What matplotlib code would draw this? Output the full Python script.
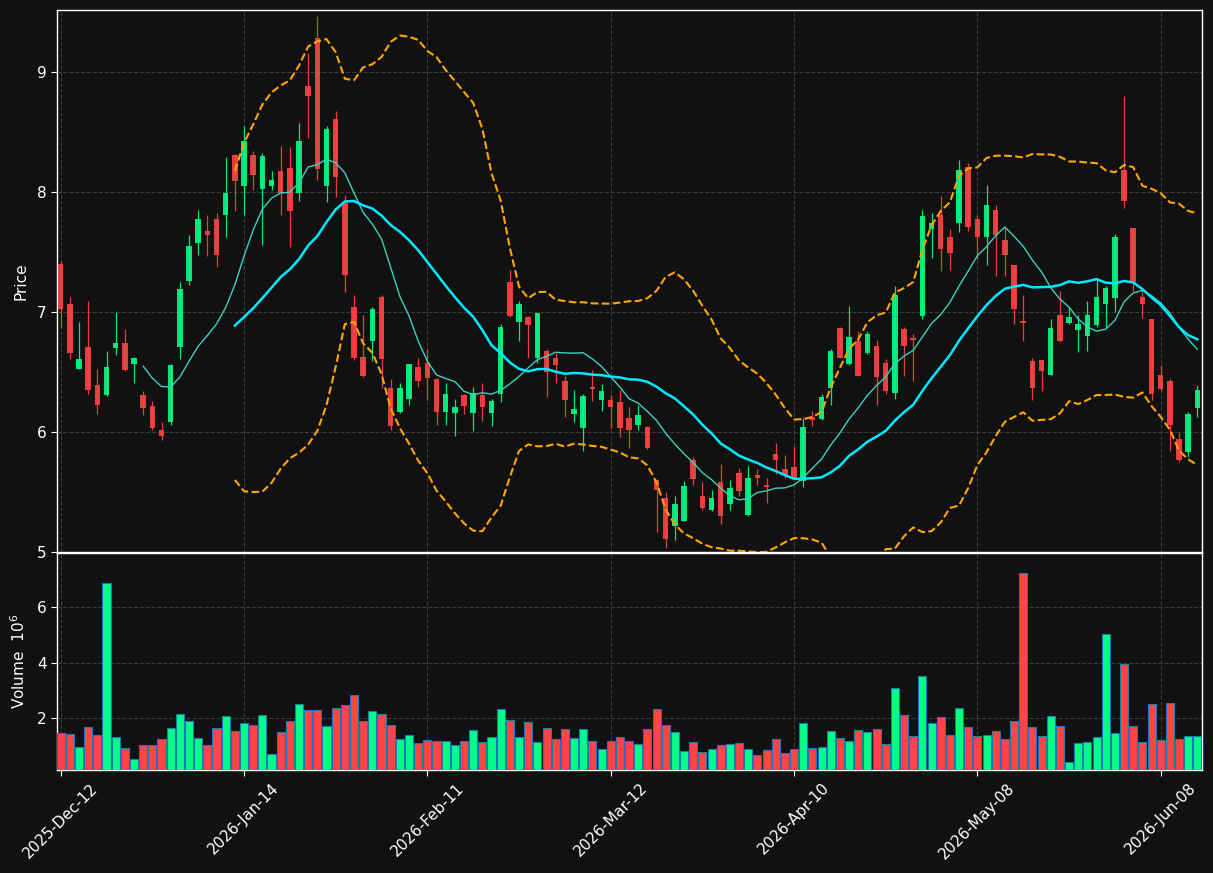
import numpy as np
import pandas as pd
import matplotlib
matplotlib.use('Agg')
import matplotlib.pyplot as plt

# ---------------- data ----------------
opens = [7.40, 7.07, 6.53, 6.71, 6.39, 6.31, 6.70, 6.74, 6.57, 6.31,
         6.22, 6.02, 6.08, 6.71, 7.26, 7.58, 7.68, 7.78, 7.81, 8.31,
         8.05, 8.31, 8.03, 8.05, 8.18, 8.20, 7.99, 8.89, 9.29, 8.05,
         8.61, 7.91, 7.04, 6.63, 6.76, 7.13, 6.37, 6.17, 6.28, 6.54,
         6.58, 6.44, 6.17, 6.16, 6.31, 6.16, 6.31, 6.16, 6.32, 7.25,
         6.92, 6.96, 6.62, 6.68, 6.62, 6.43, 6.15, 6.03, 6.38, 6.27,
         6.27, 6.25, 6.12, 6.06, 6.04, 5.60, 5.45, 5.22, 5.26, 5.77,
         5.47, 5.35, 5.58, 5.40, 5.66, 5.305, 5.645, 5.56, 5.82, 5.695,
         5.71, 5.59, 6.13, 6.11, 6.37, 6.87, 6.565, 6.76, 6.66, 6.72,
         6.58, 6.33, 6.86, 6.785, 6.965, 7.69, 7.81, 7.63, 7.74, 8.21,
         7.775, 7.63, 7.85, 7.60, 7.39, 6.93, 6.59, 6.60, 6.48, 6.98,
         6.91, 6.85, 6.80, 6.89, 7.07, 7.12, 8.185, 7.70, 7.13, 6.94,
         6.48, 6.43, 5.94, 5.83, 6.20]
highs = [7.43, 7.13, 6.92, 7.09, 6.53, 6.68, 7.00, 6.86, 6.63, 6.34,
         6.26, 6.08, 6.57, 7.25, 7.64, 7.85, 7.81, 7.83, 8.29, 8.32,
         8.55, 8.34, 8.33, 8.18, 8.39, 8.38, 8.58, 9.16, 9.47, 8.55,
         8.68, 7.98, 7.14, 6.98, 7.04, 7.14, 6.44, 6.41, 6.57, 6.62,
         6.69, 6.45, 6.41, 6.28, 6.32, 6.38, 6.41, 6.28, 6.90, 7.35,
         7.09, 6.97, 6.99, 6.69, 6.66, 6.47, 6.35, 6.32, 6.52, 6.40,
         6.31, 6.35, 6.21, 6.23, 6.05, 5.61, 5.50, 5.47, 5.59, 5.79,
         5.58, 5.52, 5.73, 5.60, 5.70, 5.72, 5.695, 5.62, 5.91, 5.81,
         5.88, 6.12, 6.18, 6.32, 6.69, 6.875, 7.05, 6.84, 6.84, 6.77,
         6.61, 7.22, 6.88, 6.82, 7.85, 7.83, 7.97, 7.69, 8.27, 8.24,
         7.81, 8.06, 7.89, 7.71, 7.39, 7.145, 6.62, 6.605, 6.94, 7.175,
         7.04, 6.98, 7.09, 7.27, 7.22, 7.65, 8.80, 7.70, 7.18, 6.945,
         6.56, 6.44, 6.00, 6.17, 6.39]
lows = [6.87, 6.61, 6.53, 6.32, 6.15, 6.30, 6.64, 6.51, 6.41, 6.14,
        6.02, 5.935, 6.06, 6.61, 7.23, 7.48, 7.47, 7.38, 7.63, 7.84,
        7.81, 8.02, 7.56, 8.02, 7.81, 7.54, 7.93, 8.45, 8.10, 7.92,
        7.96, 7.17, 6.60, 6.46, 6.59, 6.37, 6.02, 6.16, 6.23, 6.38,
        6.27, 6.06, 6.06, 5.97, 6.15, 6.01, 6.09, 6.05, 6.25, 6.96,
        6.76, 6.62, 6.58, 6.29, 6.41, 6.13, 6.08, 5.84, 6.26, 6.18,
        6.03, 5.96, 5.87, 6.02, 5.855, 5.17, 5.03, 5.10, 5.26, 5.56,
        5.35, 5.34, 5.23, 5.35, 5.47, 5.30, 5.56, 5.41, 5.65, 5.62,
        5.62, 5.54, 6.05, 6.10, 6.23, 6.62, 6.56, 6.465, 6.65, 6.23,
        6.32, 6.275, 6.47, 6.43, 6.945, 7.45, 7.34, 7.35, 7.67, 7.68,
        7.44, 7.39, 7.30, 7.30, 6.90, 6.76, 6.27, 6.34, 6.48, 6.755,
        6.90, 6.67, 6.68, 6.88, 6.88, 7.00, 7.87, 7.18, 6.95, 6.27,
        6.34, 5.84, 5.75, 5.79, 6.13]
closes = [7.03, 6.66, 6.61, 6.35, 6.23, 6.54, 6.74, 6.52, 6.62, 6.20,
          6.03, 5.965, 6.56, 7.19, 7.55, 7.78, 7.64, 7.48, 7.99, 8.09,
          8.43, 8.14, 8.30, 8.10, 7.99, 7.84, 8.43, 8.80, 8.19, 8.53,
          8.13, 7.31, 6.62, 6.47, 7.03, 6.61, 6.05, 6.37, 6.57, 6.43,
          6.45, 6.17, 6.32, 6.21, 6.22, 6.33, 6.21, 6.26, 6.88, 6.97,
          7.07, 6.89, 6.99, 6.50, 6.56, 6.27, 6.19, 6.30, 6.36, 6.34,
          6.21, 6.03, 6.02, 6.14, 5.865, 5.52, 5.11, 5.40, 5.55, 5.61,
          5.37, 5.45, 5.30, 5.53, 5.51, 5.62, 5.62, 5.54, 5.77, 5.64,
          5.62, 6.04, 6.10, 6.29, 6.68, 6.62, 6.79, 6.47, 6.82, 6.46,
          6.345, 7.145, 6.72, 6.77, 7.80, 7.74, 7.53, 7.49, 8.185, 7.71,
          7.63, 7.89, 7.64, 7.48, 7.03, 6.91, 6.37, 6.51, 6.87, 6.76,
          6.96, 6.90, 6.98, 7.13, 7.20, 7.63, 7.93, 7.25, 7.07, 6.32,
          6.36, 6.06, 5.77, 6.155, 6.35]
volume_millions = [1.47, 1.44, 0.96, 1.68, 1.40, 6.87, 1.32, 0.92, 0.52, 1.03,
                   1.03, 1.24, 1.64, 2.14, 1.89, 1.28, 1.03, 1.64, 2.07, 1.53,
                   1.82, 1.75, 2.11, 0.70, 1.50, 1.89, 2.51, 2.29, 2.29, 1.71,
                   2.36, 2.47, 2.83, 1.89, 2.25, 2.14, 1.75, 1.24, 1.39, 1.10,
                   1.21, 1.17, 1.17, 1.03, 1.17, 1.57, 1.14, 1.32, 2.32, 1.93,
                   1.32, 1.86, 1.14, 1.64, 1.24, 1.60, 1.28, 1.60, 1.17, 0.88,
                   1.17, 1.32, 1.17, 1.06, 1.60, 2.32, 1.75, 1.50, 0.81, 1.14,
                   0.78, 0.88, 1.03, 1.06, 1.10, 0.88, 0.67, 0.85, 1.24, 0.74,
                   0.88, 1.82, 0.92, 0.96, 1.53, 1.28, 1.17, 1.57, 1.50, 1.60,
                   1.06, 3.08, 2.11, 1.35, 3.51, 1.82, 2.04, 1.39, 2.36, 1.68,
                   1.35, 1.39, 1.53, 1.24, 1.89, 7.23, 1.68, 1.35, 2.07, 1.71,
                   0.41, 1.10, 1.14, 1.32, 5.03, 1.46, 3.95, 1.71, 1.14, 2.51,
                   1.21, 2.54, 1.24, 1.35, 1.35]
tick_labels = ['2025-Dec-12', '2026-Jan-14', '2026-Feb-11', '2026-Mar-12',
               '2026-Apr-10', '2026-May-08', '2026-Jun-08']
tick_step = 20

# ---------------- style ----------------
BG = '#111111'
UP = '#00ff88'
DOWN = '#ff4444'
GRID = '#3a3a3a'
FG = 'white'

W, H = 1213, 873
fig = plt.figure(figsize=(W / 100, H / 100), dpi=100, facecolor=BG)
left, right = 57 / W, 1202 / W
ax = fig.add_axes([left, 1 - 552 / H, right - left, (552 - 10) / H], facecolor=BG)
axv = fig.add_axes([left, 1 - 770 / H, right - left, (770 - 553) / H], facecolor=BG, sharex=ax)

o = np.array(opens); h = np.array(highs); l = np.array(lows); c = np.array(closes)
x = np.arange(len(c))
up = c >= o
cols = np.where(up, UP, DOWN)

# candles
ax.vlines(x, l, h, colors=cols, linewidth=0.9, alpha=0.9, zorder=2)
body_bottom = np.minimum(o, c)
body_h = np.maximum(np.abs(c - o), 0.006)
ax.bar(x, body_h, bottom=body_bottom, width=0.6, color=cols, alpha=0.9,
       linewidth=0, zorder=3)

# moving averages and bollinger bands
s = pd.Series(c)
ma10 = s.rolling(10).mean()
ma20 = s.rolling(20).mean()
sd20 = s.rolling(20).std(ddof=0)
ax.plot(x, ma10, color='#3ccfc2', lw=1.0, zorder=4)
ax.plot(x, ma20, color='#00eaff', lw=1.8, zorder=4)
ax.plot(x, ma20 + 2 * sd20, color='#ffa500', ls='--', lw=1.5, zorder=4)
ax.plot(x, ma20 - 2 * sd20, color='#ffa500', ls='--', lw=1.5, zorder=4)

# volume
axv.bar(x, volume_millions, width=0.88, color=cols, edgecolor='#1f77b4',
        linewidth=0.8, zorder=3)

# axes formatting
ax.set_xlim(-0.4, len(c) - 0.5)
ax.set_ylim(5.0, 9.52)
axv.set_ylim(0.14, 7.95)
ax.set_yticks([5, 6, 7, 8, 9])
axv.set_yticks([2, 4, 6])
ticks = list(range(0, len(c), tick_step))
axv.set_xticks(ticks)
axv.set_xticklabels(tick_labels[:len(ticks)], rotation=45, ha='center')
plt.setp(ax.get_xticklabels(), visible=False)

for a in (ax, axv):
    a.grid(True, color=GRID, linestyle='--', linewidth=0.8)
    a.set_axisbelow(True)
    a.tick_params(colors=FG, labelsize=11, length=4)
    for sp in a.spines.values():
        sp.set_color(FG)
        sp.set_linewidth(1.0)

ax.set_ylabel('Price', color=FG, fontsize=11)
axv.set_ylabel('Volume  $10^{6}$', color=FG, fontsize=11)
ax.yaxis.set_label_coords(-0.025, 0.5)
axv.yaxis.set_label_coords(-0.025, 0.5)

fig.savefig('out.png', dpi=100, facecolor=BG)
